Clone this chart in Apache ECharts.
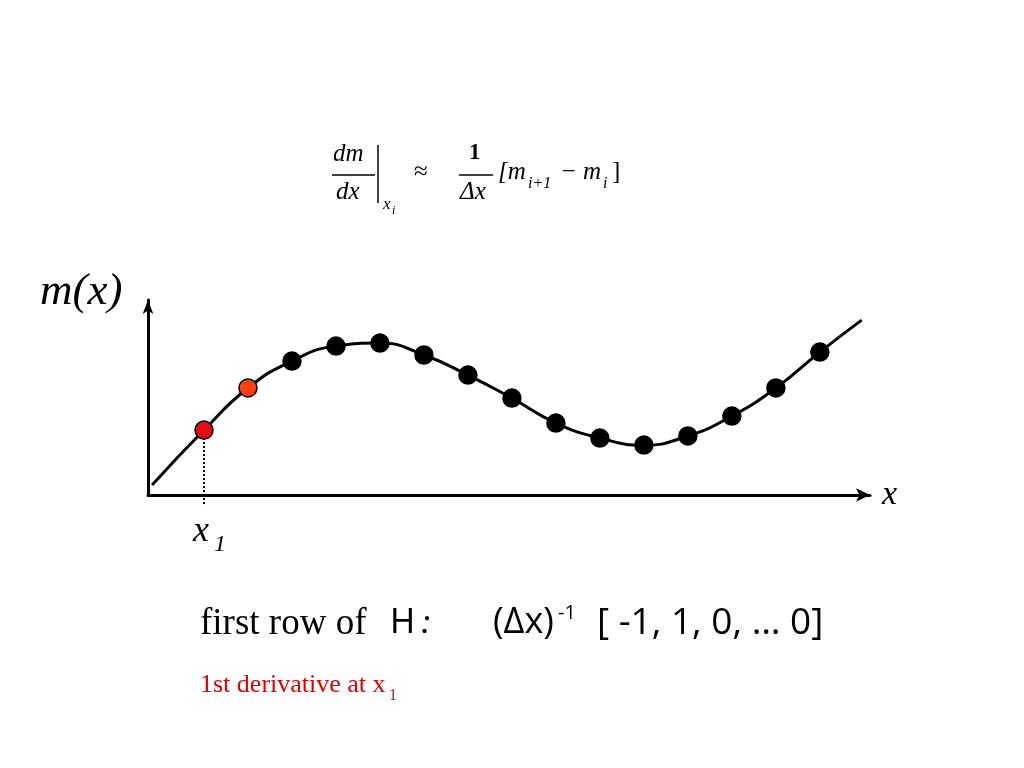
<!DOCTYPE html>
<html><head><meta charset="utf-8">
<script src="https://cdn.jsdelivr.net/npm/echarts@6/dist/echarts.min.js"></script>
<style>html,body{margin:0;padding:0;background:#fff}#c{width:1024px;height:768px}</style>
</head><body><div id="c"></div>
<script>
const sampleX = [1,2,3,4,5,6,7,8,9,10,11,12,13,14,15];
const sampleM = [3.33,5.49,6.87,7.64,7.79,7.18,6.15,4.97,3.69,2.92,2.56,3.03,4.05,5.49,7.33];
const curveX = [-0.18,1,2,3,4,5,6,7,8,9,10,11,12,13,14,15,15.95];
const curveM = [0.51,3.33,5.49,6.87,7.64,7.79,7.18,6.15,4.97,3.69,2.92,2.56,3.03,4.05,5.49,7.33,8.97];
const pointColors = ['#e01010','#ff4010'];

const chart = echarts.init(document.getElementById('c'));
const serif = 'Liberation Serif';
const pts = sampleX.map((x,i)=>({value:[x,sampleM[i]], itemStyle:{color: i<2?pointColors[i]:'#000'}}));
chart.setOption({
  animation:false,
  grid:{left:148,right:154,top:300,bottom:273},
  xAxis:{type:'value',min:-0.273,max:16.14,axisLine:{onZero:false,lineStyle:{color:'#000',width:3},symbol:['none','arrow'],symbolSize:[10,14]},axisTick:{show:false},axisLabel:{show:false},splitLine:{show:false}},
  yAxis:{type:'value',min:0,max:10,axisLine:{show:true,onZero:false,lineStyle:{color:'#000',width:3},symbol:['none','arrow'],symbolSize:[8,14]},axisTick:{show:false},axisLabel:{show:false},splitLine:{show:false}},
  series:[
    {type:'line',smooth:0.5,showSymbol:false,data:curveX.map((x,i)=>[x,curveM[i]]),lineStyle:{color:'#000',width:3},z:2},
    {type:'line',showSymbol:false,clip:false,data:[[sampleX[0],sampleM[0]],[sampleX[0],-0.5]],lineStyle:{color:'#000',width:2,type:'dotted'},z:1},
    {type:'scatter',symbolSize:18,data:pts,itemStyle:{opacity:1,borderColor:'#000',borderWidth:1.5},z:3}
  ],
  graphic:[
    {type:'text',left:333,top:142,style:{text:'dm',font:'italic 25px '+serif,fill:'#000'}},
    {type:'line',shape:{x1:332,y1:175,x2:375,y2:175},style:{stroke:'#000',lineWidth:1.5}},
    {type:'text',left:336,top:180,style:{text:'dx',font:'italic 25px '+serif,fill:'#000'}},
    {type:'line',shape:{x1:378,y1:145,x2:378,y2:203},style:{stroke:'#000',lineWidth:1.5}},
    {type:'text',left:383,top:196,style:{text:'x',font:'italic 17px '+serif,fill:'#000'}},
    {type:'text',left:392,top:205,style:{text:'i',font:'italic 12px '+serif,fill:'#000'}},
    {type:'text',left:414,top:160,style:{text:'≈',font:'25px '+serif,fill:'#000'}},
    {type:'text',left:469,top:142,style:{text:'1',font:'bold 23px '+serif,fill:'#000'}},
    {type:'line',shape:{x1:459,y1:175,x2:493,y2:175},style:{stroke:'#000',lineWidth:1.5}},
    {type:'text',left:460,top:180,style:{text:'Δx',font:'italic 25px '+serif,fill:'#000'}},
    {type:'text',left:498,top:160,style:{text:'[m',font:'italic 25px '+serif,fill:'#000'}},
    {type:'text',left:528,top:176,style:{text:'i+1',font:'italic 16px '+serif,fill:'#000'}},
    {type:'text',left:560,top:160,style:{text:'− m',font:'italic 25px '+serif,fill:'#000'}},
    {type:'text',left:603,top:176,style:{text:'i',font:'italic 16px '+serif,fill:'#000'}},
    {type:'text',left:612,top:160,style:{text:']',font:'25px '+serif,fill:'#000'}},
    {type:'text',left:40,top:270,style:{text:'m(x)',font:'italic 45px '+serif,fill:'#000'}},
    {type:'text',left:882,top:478,style:{text:'x',font:'italic 34px '+serif,fill:'#000'}},
    {type:'text',left:193,top:514,style:{text:'x',font:'italic 36px '+serif,fill:'#000'}},
    {type:'text',left:214,top:533,style:{text:'1',font:'italic 24px '+serif,fill:'#000'}},
    {type:'text',left:200,top:606,style:{text:'first row of',font:'37px '+serif,fill:'#000'}},
    {type:'text',left:390,top:606,style:{text:'H',font:'34px Noto Sans',fill:'#000'}},
    {type:'text',left:420,top:606,style:{text:':',font:'italic 36px '+serif,fill:'#000'}},
    {type:'text',left:493,top:605,style:{text:'(Δx)',font:'36px Open Sans',fill:'#000'}},
    {type:'text',left:558,top:603,style:{text:'-1',font:'20px Open Sans',fill:'#000'}},
    {type:'text',left:597,top:605,style:{text:'[ -1, 1, 0, … 0]',font:'37px Open Sans',fill:'#000'}},
    {type:'text',left:200,top:672,style:{text:'1st derivative at x',font:'26px '+serif,fill:'#e00000'}},
    {type:'text',left:389,top:688,style:{text:'1',font:'16px '+serif,fill:'#e00000'}}
  ]
});
</script></body></html>
